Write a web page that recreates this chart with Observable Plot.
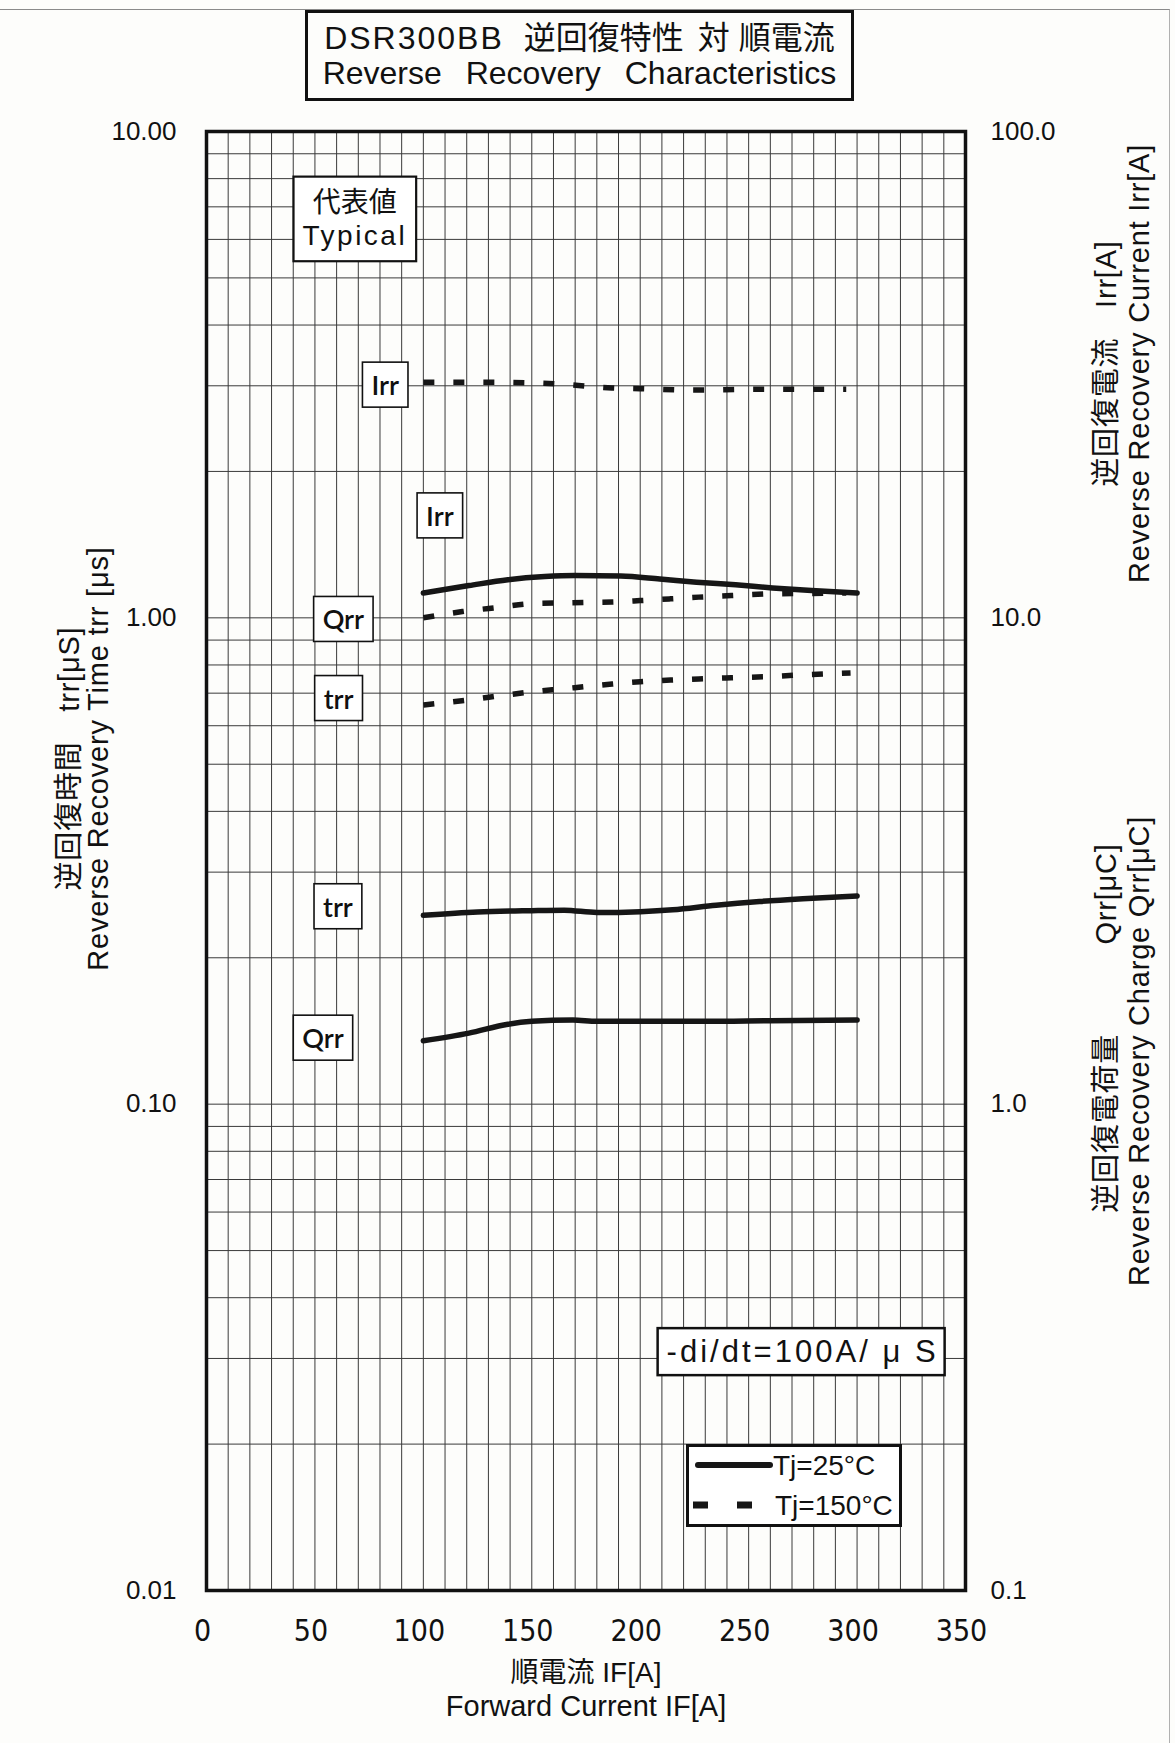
<!DOCTYPE html>
<html>
<head>
<meta charset="utf-8">
<script src="https://cdn.jsdelivr.net/npm/d3@7"></script>
<script src="https://cdn.jsdelivr.net/npm/@observablehq/plot@0.6"></script>
<style>
  html, body { margin: 0; padding: 0; }
  body {
    width: 1175px; height: 1743px; position: relative; overflow: hidden;
    background: #fdfdfb; color: #111;
    font-family: "Liberation Sans", "Noto Sans CJK JP", sans-serif;
  }
  #pageedge {
    position: absolute; left: -2px; top: 9px; width: 1172px; height: 1760px;
    border-top: 1.5px solid #8a8a8a; border-right: 1.5px solid #b0b0b0; box-sizing: border-box;
  }
  #title {
    position: absolute; left: 305px; top: 10px; width: 549px; height: 91px;
    box-sizing: border-box; border: 3.5px solid #111; background: #fdfdfb;
  }
  #title div { position: absolute; left: 0; right: 0; text-align: center; white-space: pre; }
  #title .l1 { top: 7px; font-size: 32px; line-height: 36px; }
  #title .l2 { top: 42px; font-size: 32px; line-height: 36px; word-spacing: 15px; }
  #chart { position: absolute; left: 0; top: 110px; }
  #legend {
    position: absolute; left: 686px; top: 1444px; width: 216px; height: 83px;
    box-sizing: border-box; border: 3.5px solid #111; background: #fff;
  }
  #legend svg { position: absolute; left: 0; top: 0; }
</style>
</head>
<body>
<div id="pageedge"></div>
<div id="title">
  <div class="l1"><span style="letter-spacing:2px">DSR300BB</span><span style="margin-left:20px">逆回復特性</span><span style="margin-left:14px">対</span><span style="margin-left:9px">順電流</span></div>
  <div class="l2">Reverse Recovery Characteristics</div>
</div>
<div id="chart"></div>
<div id="legend"></div>
<script>
// ---------- axis ticks ----------
const xTicks = [0, 50, 100, 150, 200, 250, 300, 350];
const yTicks = [10, 1, 0.1, 0.01];
const yTickLabelsLeft = ["10.00", "1.00", "0.10", "0.01"];
const yTickLabelsRight = ["100.0", "10.0", "1.0", "0.1"];

// ---------- Tj = 25°C (solid) ----------
// Irr [A] (right axis)
const irr25IF = [100, 121, 139, 156, 170, 191, 209, 226, 244, 261, 279, 300];
const irr25   = [11.25, 11.65, 11.98, 12.16, 12.22, 12.19, 12.02, 11.84, 11.69, 11.52, 11.38, 11.25];
// trr [μs] (left axis)
const trr25IF = [100, 125, 150, 165, 180, 200, 215, 235, 255, 275, 300];
const trr25   = [0.2445, 0.2485, 0.250, 0.2505, 0.2478, 0.2488, 0.251, 0.2565, 0.261, 0.2645, 0.268];
// Qrr [μC] (right axis)
const qrr25IF = [100, 121, 139, 150, 169, 180, 200, 230, 260, 300];
const qrr25   = [1.35, 1.40, 1.46, 1.48, 1.49, 1.48, 1.48, 1.48, 1.485, 1.49];

// ---------- Tj = 150°C (dashed) ----------
const irr150IF = [100, 125, 150, 165, 177, 187, 200, 225, 250, 275, 295];
const irr150   = [30.5, 30.5, 30.4, 30.2, 29.9, 29.7, 29.6, 29.4, 29.5, 29.5, 29.5];
const qrr150IF = [100, 118, 134, 151, 165, 177, 187, 200, 214, 227, 242, 259, 274, 295];
const qrr150   = [10.0, 10.3, 10.5, 10.7, 10.73, 10.76, 10.78, 10.85, 10.94, 11.03, 11.11, 11.2, 11.22, 11.25];
const trr150IF = [100, 121, 137, 151, 165, 177, 187, 200, 214, 227, 242, 259, 274, 297];
const trr150   = [0.662, 0.678, 0.693, 0.705, 0.715, 0.724, 0.731, 0.739, 0.745, 0.749, 0.753, 0.757, 0.763, 0.770];

// ---------- curve labels (position in IF [A] and left-axis units) ----------
const labelText = ["Irr", "Irr", "Qrr", "trr", "trr", "Qrr"];
const labelIF   = [82.4, 107.6, 63.1, 60.9, 60.6, 53.7];
const labelY    = [2.99, 1.61, 0.986, 0.678, 0.253, 0.1358];
const typicalText = ["代表値\nTypical"];
const typicalIF = [68.4];
const typicalY  = [6.65];
const condText = ["-di/dt=100A/ μ S"];
const condIF = [274.2];
const condY  = [0.0309];

// ---------- axis titles ----------
const xTitle1 = "順電流 IF[A]";
const xTitle2 = "Forward Current IF[A]";
const yLeft1 = "逆回復時間　trr[μS]";
const yLeft2 = "Reverse Recovery Time trr [μs]";
const yRightTop1 = "逆回復電流　Irr[A]";
const yRightTop2 = "Reverse Recovery Current Irr[A]";
const yRightBot1 = "逆回復電荷量　　　Qrr[μC]";
const yRightBot2 = "Reverse Recovery Charge Qrr[μC]";

// build rows; right-axis quantities are divided by 10 to share the left log scale
function rows(IF, v, series, temp, factor) {
  return IF.map((x, i) => ({ IF: x, v: v[i] * factor, series, temp }));
}
const solidRows = [
  ...rows(irr25IF, irr25, "Irr", "25", 0.1),
  ...rows(trr25IF, trr25, "trr", "25", 1),
  ...rows(qrr25IF, qrr25, "Qrr", "25", 0.1)
];
const dashedRows = [
  ...rows(irr150IF, irr150, "Irr", "150", 0.1),
  ...rows(qrr150IF, qrr150, "Qrr", "150", 0.1),
  ...rows(trr150IF, trr150, "trr", "150", 1)
];

// grid values
const xGrid = d3.range(10, 350, 10);
const yGrid = [];
for (const dec of [0.01, 0.1, 1]) for (let k = 1; k <= 9; k++) yGrid.push(+(dec * k).toPrecision(3));
yGrid.push(10);

const sans = "Liberation Sans, Noto Sans CJK JP, sans-serif";
const narrow = "Liberation Sans Narrow, DejaVu Sans Condensed, sans-serif";
const labelFont = "Lato, Open Sans, sans-serif";

const rotTitle = (txt, anchor, dx, dy) => Plot.text([txt], {
  text: d => d, frameAnchor: anchor, textAnchor: "middle", lineAnchor: "middle",
  rotate: -90, dx, dy, fontSize: 29, fontFamily: sans, ariaLabel: "axis-title"
});

const chart = Plot.plot({
  width: 1175,
  height: 1633,
  marginTop: 21,
  marginBottom: 153,
  marginLeft: 206,
  marginRight: 210,
  x: { domain: [0, 350], axis: null },
  y: { type: "log", domain: [0.01, 10], axis: null },
  style: { background: "transparent", color: "#111", fontFamily: sans, overflow: "visible" },
  marks: [
    Plot.ruleX(xGrid, { x: d => d, stroke: "#3a3a3a", strokeWidth: 1 }),
    Plot.ruleY(yGrid, { y: d => d, stroke: "#3a3a3a", strokeWidth: 1 }),
    Plot.frame({ stroke: "#111", strokeWidth: 3.5 }),
    Plot.line(solidRows, { x: "IF", y: "v", z: "series", curve: "monotone-x",
      stroke: "#161616", strokeWidth: 5.5, strokeLinecap: "round" }),
    Plot.line(dashedRows, { x: "IF", y: "v", z: "series", curve: "monotone-x",
      stroke: "#161616", strokeWidth: 5.5, strokeLinecap: "butt", strokeDasharray: "11,19" }),
    // tick labels
    Plot.text(xTicks, { x: d => d, text: d => String(d), frameAnchor: "bottom", lineAnchor: "middle",
      dx: -4, dy: 41, fontSize: 30, fontFamily: narrow }),
    Plot.text(yTicks, { y: d => d, text: (d, i) => yTickLabelsLeft[i], frameAnchor: "left",
      textAnchor: "end", lineAnchor: "middle", dx: -30, fontSize: 26, fontFamily: sans }),
    Plot.text(yTicks, { y: d => d, text: (d, i) => yTickLabelsRight[i], frameAnchor: "right",
      textAnchor: "start", lineAnchor: "middle", dx: 25, fontSize: 26, fontFamily: sans }),
    // axis titles
    Plot.text([xTitle1], { text: d => d, frameAnchor: "bottom", textAnchor: "middle", lineAnchor: "middle",
      dy: 83, fontSize: 28, fontFamily: sans }),
    Plot.text([xTitle2], { text: d => d, frameAnchor: "bottom", textAnchor: "middle", lineAnchor: "middle",
      dy: 116, fontSize: 29, fontFamily: sans }),
    rotTitle(yLeft1, "left", -137, -102.5),
    rotTitle(yLeft2, "left", -108, -102.5),
    rotTitle(yRightTop1, "right", 141, -497.5),
    rotTitle(yRightTop2, "right", 174, -497.5),
    rotTitle(yRightBot1, "right", 141, 167),
    rotTitle(yRightBot2, "right", 174, 190),
    // curve labels (boxed afterwards)
    Plot.text(labelText, { x: (d, i) => labelIF[i], y: (d, i) => labelY[i], text: d => d,
      fontSize: 27, fontFamily: labelFont, fontWeight: 600 }),
    Plot.text(typicalText, { x: (d, i) => typicalIF[i], y: (d, i) => typicalY[i], text: d => d,
      fontSize: 28, lineHeight: 1.2, fontFamily: sans }),
    Plot.text(condText, { x: (d, i) => condIF[i], y: (d, i) => condY[i], text: d => d,
      fontSize: 31, fontFamily: sans })
  ]
});

document.getElementById("chart").append(chart);

// letter spacing of rotated titles
chart.querySelectorAll("text").forEach(el => {
  const t = el.textContent;
  if ([yLeft1, yLeft2, yRightTop1, yRightTop2, yRightBot1, yRightBot2].includes(t)) {
    el.style.letterSpacing = "0.8px";
  }
  if (t === condText[0]) {
    el.setAttribute("textLength", 269);
    el.setAttribute("lengthAdjust", "spacing");
  }
  if (t === typicalText[0].replace("\n", "")) {
    const spans = el.querySelectorAll("tspan");
    if (spans.length > 1) spans[1].style.letterSpacing = "2.5px";
  }
});

// draw white boxes behind annotation texts (matched by their content)
const boxSpec = new Map();
labelText.forEach(t => boxSpec.set(t, { px: 9, py: 6, sw: 1.6 }));
boxSpec.set(typicalText[0].replace("\n", ""), { px: 9, py: 10, sw: 2.2 });
boxSpec.set(condText[0], { px: 9, py: 6, sw: 2.5 });
chart.querySelectorAll("text").forEach(el => {
  const spec = boxSpec.get(el.textContent);
  if (!spec) return;
  const b = el.getBBox();
  const r = document.createElementNS("http://www.w3.org/2000/svg", "rect");
  r.setAttribute("x", b.x - spec.px);
  r.setAttribute("y", b.y - spec.py);
  r.setAttribute("width", b.width + 2 * spec.px);
  r.setAttribute("height", b.height + 2 * spec.py);
  const t = el.getAttribute("transform");
  if (t) r.setAttribute("transform", t);
  r.setAttribute("fill", "#fff");
  r.setAttribute("stroke", "#111");
  r.setAttribute("stroke-width", spec.sw);
  el.parentNode.insertBefore(r, el);
});

// legend overlay
const lg = d3.select("#legend").append("svg").attr("width", 210).attr("height", 77);
lg.append("line").attr("x1", 9).attr("x2", 81).attr("y1", 18).attr("y2", 18)
  .attr("stroke", "#161616").attr("stroke-width", 6).attr("stroke-linecap", "round");
lg.append("line").attr("x1", 4).attr("x2", 66).attr("y1", 58).attr("y2", 58)
  .attr("stroke", "#161616").attr("stroke-width", 7).attr("stroke-dasharray", "15,29");
lg.append("text").attr("x", 84).attr("y", 18).attr("dy", "0.35em").attr("font-size", 28)
  .attr("font-family", sans).attr("fill", "#111").text("Tj=25°C");
lg.append("text").attr("x", 86).attr("y", 58).attr("dy", "0.35em").attr("font-size", 28)
  .attr("font-family", sans).attr("fill", "#111").text("Tj=150°C");
</script>
</body>
</html>
